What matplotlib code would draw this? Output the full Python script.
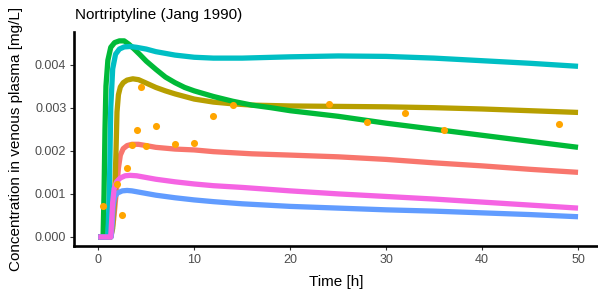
import matplotlib
matplotlib.use("Agg")
import matplotlib.pyplot as plt
import numpy as np

plt.rcParams['font.family'] = ['Liberation Sans', 'DejaVu Sans']

# simulated profiles, time in h, concentration in mg/L
t_red = [0, 1.3, 1.6, 1.9, 2.1, 2.3, 2.6, 3, 3.5, 4.2, 5, 6, 8, 10, 12, 16, 20, 25, 30, 35, 40, 45, 50]
c_red = [0, 0, 0.0004, 0.0011, 0.0016, 0.0019, 0.00205, 0.00212, 0.00215, 0.00215, 0.00212,
         0.00208, 0.00204, 0.00202, 0.00198, 0.00193, 0.0019, 0.00186, 0.0018, 0.00172,
         0.00165, 0.00157, 0.0015]

t_olive = [0, 1.3, 1.5, 1.7, 1.85, 1.95, 2.1, 2.3, 2.6, 3, 3.6, 4.2, 5, 6, 7, 8, 10, 12, 14, 16,
           20, 25, 30, 35, 40, 45, 50]
c_olive = [0, 0, 0.0002, 0.0009, 0.002, 0.0029, 0.0033, 0.00348, 0.00358, 0.00364, 0.00367,
           0.00365, 0.00357, 0.00347, 0.00339, 0.00332, 0.0032, 0.00313, 0.00309, 0.00306,
           0.00304, 0.00303, 0.00302, 0.003, 0.00297, 0.00293, 0.00289]

t_green = [0, 0.5, 0.6, 0.7, 0.8, 1.0, 1.3, 1.7, 2.2, 2.7, 3.2, 3.7, 4.3, 5, 6, 7, 8, 9, 10, 12,
           14, 16, 18, 20, 25, 30, 35, 40, 45, 50]
c_green = [0, 0, 0.001, 0.0025, 0.0035, 0.0041, 0.0044, 0.00451, 0.00455, 0.00455, 0.00447,
           0.00437, 0.00424, 0.00408, 0.00389, 0.00371, 0.00358, 0.00347, 0.00339, 0.00326,
           0.00315, 0.00306, 0.003, 0.00293, 0.0028, 0.00264, 0.0025, 0.00236, 0.00222, 0.00208]

t_cyan = [0, 1.0, 1.15, 1.3, 1.5, 1.8, 2.2, 2.7, 3.3, 4, 5, 6, 8, 10, 12, 15, 20, 25, 30, 35, 40,
          45, 50]
c_cyan = [0, 0, 0.001, 0.003, 0.0039, 0.00424, 0.00436, 0.00441, 0.00442, 0.0044, 0.00436,
          0.0043, 0.00422, 0.00417, 0.00415, 0.00415, 0.00418, 0.0042, 0.00419, 0.00415,
          0.00409, 0.00403, 0.00396]

t_blue = [0, 1.35, 1.45, 1.55, 1.7, 2, 2.5, 3, 3.5, 4.5, 6, 8, 10, 12, 15, 20, 25, 30, 35, 40,
          45, 50]
c_blue = [0, 0, 0.0003, 0.0007, 0.00093, 0.00102, 0.00107, 0.00108, 0.00107, 0.00103, 0.00097,
          0.00091, 0.00086, 0.00082, 0.00077, 0.00071, 0.00067, 0.00063, 0.0006, 0.00056,
          0.00052, 0.00047]

t_magenta = [0, 1.3, 1.4, 1.5, 1.65, 1.9, 2.3, 2.8, 3.3, 4, 5, 6, 8, 10, 12, 15, 20, 25, 30, 35,
             40, 45, 50]
c_magenta = [0, 0, 0.0004, 0.0008, 0.00112, 0.00128, 0.00137, 0.00142, 0.00143, 0.00142,
             0.00138, 0.00134, 0.00128, 0.00123, 0.00119, 0.00115, 0.00107, 0.001, 0.00094,
             0.00088, 0.00081, 0.00074, 0.00067]

# observed data (Jang 1990)
t_obs = [0.5, 2, 2.5, 3, 3.5, 4, 4.5, 5, 6, 8, 10, 12, 14, 24, 28, 32, 36, 48]
c_obs = [0.00073, 0.00123, 0.00051, 0.0016, 0.00213, 0.00248, 0.00348, 0.00212, 0.00258,
         0.00216, 0.00218, 0.0028, 0.00306, 0.00308, 0.00267, 0.00288, 0.00248, 0.00261]

series = [
    (t_red, c_red, '#F8766D'),
    (t_olive, c_olive, '#B79F00'),
    (t_green, c_green, '#00BA38'),
    (t_cyan, c_cyan, '#00BFC4'),
    (t_blue, c_blue, '#619CFF'),
    (t_magenta, c_magenta, '#F564E3'),
]

fig = plt.figure(figsize=(5.98, 2.91), dpi=100)
ax = fig.add_axes([74 / 598, 45 / 291, 524 / 598, 214 / 291])

for t, c, col in series:
    ax.plot(t, c, color=col, lw=3.8, solid_capstyle='butt', solid_joinstyle='round')

ax.scatter(t_obs, c_obs, s=26, color='orange', zorder=5, linewidths=0)

ax.set_xlim(-2.53, 52.08)
ax.set_ylim(-0.000209, 0.004756)
ax.set_xticks([0, 10, 20, 30, 40, 50])
ax.set_yticks([0, 0.001, 0.002, 0.003, 0.004])
ax.set_yticklabels(['0.000', '0.001', '0.002', '0.003', '0.004'])

for s in ['top', 'right']:
    ax.spines[s].set_visible(False)
for s in ['left', 'bottom']:
    ax.spines[s].set_linewidth(1.9)
    ax.spines[s].set_color('black')
ax.tick_params(length=3, width=0.8, color='#333333', labelcolor='#4D4D4D',
               labelsize=9, pad=2.5)

fig.text(75 / 598, 1 - 18.5 / 291, 'Nortriptyline (Jang 1990)', fontsize=11,
         ha='left', va='baseline')
fig.text(336 / 598, 1 - 286 / 291, 'Time [h]', fontsize=11, ha='center', va='baseline')
fig.text(16 / 598, 1 - 139 / 291, 'Concentration in venous plasma [mg/L]', fontsize=11,
         rotation=90, ha='center', va='center')

fig.savefig('out.png', dpi=100)
